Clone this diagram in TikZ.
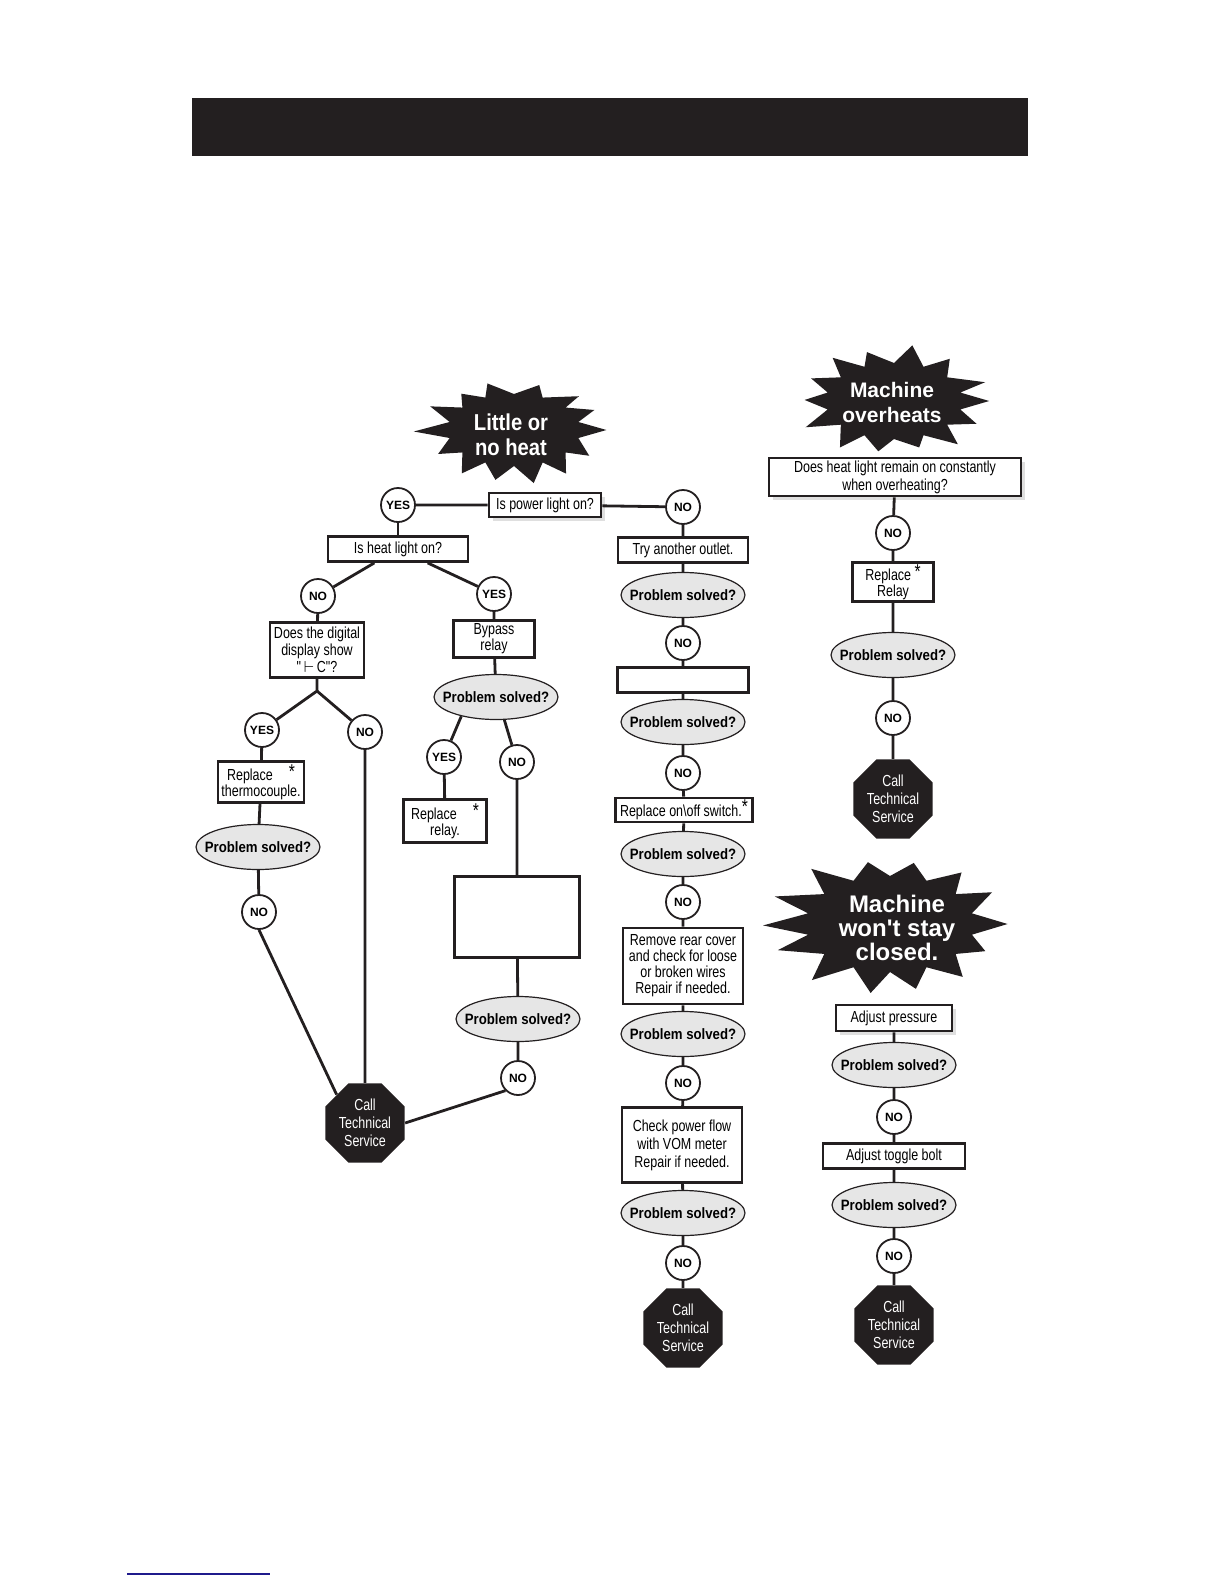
\documentclass[tikz,border=0pt]{standalone}
\usepackage{fontspec}
\setmainfont{Liberation Sans}
\newfontfamily\condfont{Liberation Sans}[FakeStretch=0.78]
\newfontfamily\boldcond{Liberation Sans}[FakeStretch=0.88]
\newfontfamily\titlefont{Liberation Sans}[Ligatures=TeXOff]
\usetikzlibrary{shapes.geometric, shadows}

\definecolor{ink}{HTML}{231F20}
\definecolor{solvedgray}{HTML}{E6E6E6}
\definecolor{linkblue}{HTML}{1F1A8C}

% spiky black blob behind each problem title
\newcommand\burstshape[4]{%
  \pgfmathsetseed{#4}%
  \fill[ink, shift={#1}, x=#2, y=-#3]
    (0:1.4) \foreach \k in {1,...,27} {
      -- ({\k*360/28+ifthenelse(mod(\k,2)==0,8*rnd-4,0)}:{ifthenelse(mod(\k,2)==0,1.25+0.28*rnd,1)})
    } -- cycle;
}
\newcommand\bigstar{\raisebox{1pt}{\fontsize{10}{10}\selectfont *}}

\begin{document}
\begin{tikzpicture}[
  x=0.5pt, y=-0.5pt,
  qbox/.style={draw=ink, line width=1.4pt, fill=white, align=center,
    inner sep=1pt, font=\condfont\fontsize{8}{8}\selectfont},
  yn/.style={circle, draw=ink, line width=0.9pt, fill=white,
    minimum size=17pt, inner sep=0pt, font=\bfseries\fontsize{6}{6}\selectfont},
  solved/.style={ellipse, draw=ink, line width=0.6pt, fill=solvedgray,
    minimum width=62pt, minimum height=22.5pt, inner xsep=-5pt, inner ysep=0pt,
    font=\boldcond\bfseries\fontsize{7.5}{7.5}\selectfont},
  callts/.style={regular polygon, regular polygon sides=8, fill=ink,
    minimum size=43pt, inner sep=0pt, align=center, text=white,
    font=\condfont\fontsize{8}{9}\selectfont},
  burstlabel/.style={text=white, align=center, inner sep=0pt},
  wire/.style={draw=ink, line width=1.4pt},
  lifted/.style={drop shadow={shadow xshift=2pt, shadow yshift=-2pt, fill=black!25}},
]
\useasboundingbox (0,0) rectangle (1224,1584);

\fill[ink] (192,98) rectangle (1028,156);

% Little or no heat
\burstshape{(514,430)}{33pt}{18pt}{3}
\node[burstlabel, font=\boldcond\bfseries\fontsize{11.5}{12.5}\selectfont]
  (lowheat) at (511,435) {Little or\\no heat};

\node[yn] (pwryes) at (398,505) {YES};
\node[qbox, lifted, minimum width=56pt, minimum height=12pt] (power) at (545,505) {Is power light on?};
\node[yn] (pwrno) at (683,507) {NO};

\node[qbox, minimum width=70pt, minimum height=12.5pt] (heatq) at (398,549) {Is heat light on?};
\node[yn] (heatno) at (318,596) {NO};
\node[yn] (heatyes) at (494,594) {YES};

\node[qbox, minimum width=47pt, minimum height=27.5pt, font=\condfont\fontsize{8}{8.6}\selectfont]
  (digital) at (317,650) {Does the digital\\display show\\"\,$\vdash$\,C"?};
\coordinate (fork) at (317,691);
\node[yn] (digyes) at (262,730) {YES};
\node[yn] (digno) at (365,732) {NO};
\node[qbox, minimum width=43pt, minimum height=20.5pt] (thermo) at (261,782) {Replace\quad\bigstar\\thermocouple.};
\node[solved] (solvedA) at (258,847) {Problem solved?};
\node[yn] (thermono) at (259,912) {NO};
\node[callts] (callA) at (365,1123) {Call\\Technical\\Service};

\node[qbox, minimum width=40.5pt, minimum height=18.5pt] (bypass) at (494,639) {Bypass\\relay};
\node[solved] (solvedB) at (496,697) {Problem solved?};
\node[yn] (bypyes) at (444,757) {YES};
\node[yn] (bypno) at (517,762) {NO};
\node[qbox, minimum width=41.5pt, minimum height=21.5pt] (relayB) at (445,821) {Replace\quad\bigstar\\relay.};
\node[qbox, minimum width=62.5pt, minimum height=40.5pt] (emptyB) at (517,917) {};
\node[solved] (solvedC) at (518,1019) {Problem solved?};
\node[yn] (emptyno) at (518,1078) {NO};

% middle column
\node[qbox, minimum width=65pt, minimum height=12.5pt] (outlet) at (683,550) {Try another outlet.};
\node[solved] (solvedD) at (683,595) {Problem solved?};
\node[yn] (outletno) at (683,643) {NO};
\node[qbox, minimum width=65.5pt, minimum height=12.5pt] (emptyD) at (683,680) {};
\node[solved] (solvedE) at (683,722) {Problem solved?};
\node[yn] (emptyDno) at (683,773) {NO};
\node[qbox, minimum width=68.5pt, minimum height=12pt] (switch) at (684,810) {Replace on\textbackslash off switch.\raisebox{1.5pt}{\fontsize{10}{10}\selectfont *}};
\node[solved] (solvedF) at (683,854) {Problem solved?};
\node[yn] (switchno) at (683,902) {NO};
\node[qbox, minimum width=60pt, minimum height=38pt] (rewire) at (683,966)
  {Remove rear cover\\and check for loose\\or broken wires\\Repair if needed.};
\node[solved] (solvedG) at (683,1034) {Problem solved?};
\node[yn] (rewireno) at (683,1083) {NO};
\node[qbox, minimum width=60pt, minimum height=37.5pt, font=\condfont\fontsize{8}{9}\selectfont] (vom) at (682,1145)
  {Check power flow\\with VOM meter\\Repair if needed.};
\node[solved] (solvedH) at (683,1213) {Problem solved?};
\node[yn] (vomno) at (683,1263) {NO};
\node[callts] (callB) at (683,1328) {Call\\Technical\\Service};

% Machine overheats
\burstshape{(894,401)}{34pt}{19pt}{11}
\node[burstlabel, font=\titlefont\bfseries\fontsize{10.5}{12.5}\selectfont]
  (overheat) at (892,402) {Machine\\overheats};
\node[qbox, lifted, minimum width=126pt, minimum height=19pt, font=\condfont\fontsize{8}{9}\selectfont]
  (heatrem) at (895,477) {Does heat light remain on constantly\\when overheating?};
\node[yn] (heatremno) at (893,533) {NO};
\node[qbox, minimum width=40.5pt, minimum height=19pt] (relayC) at (893,582) {Replace \bigstar\\Relay};
\node[solved] (solvedI) at (893,655) {Problem solved?};
\node[yn] (relayno) at (893,718) {NO};
\node[callts] (callC) at (893,799) {Call\\Technical\\Service};

% Machine won't stay closed
\burstshape{(890,924)}{42pt}{24pt}{5}
\node[burstlabel, font=\titlefont\bfseries\fontsize{12}{11.8}\selectfont]
  (openlid) at (897,928) {Machine\\won't stay\\closed.};
\node[qbox, lifted, minimum width=58pt, minimum height=13pt] (pressure) at (894,1018) {Adjust pressure};
\node[solved] (solvedJ) at (894,1065) {Problem solved?};
\node[yn] (pressno) at (894,1117) {NO};
\node[qbox, minimum width=71pt, minimum height=12.5pt] (toggle) at (894,1156) {Adjust toggle bolt};
\node[solved] (solvedK) at (894,1205) {Problem solved?};
\node[yn] (toggleno) at (894,1256) {NO};
\node[callts] (callD) at (894,1325) {Call\\Technical\\Service};

% connectors
\draw[wire] (pwryes) -- (power) -- (pwrno);
\draw[wire] (pwryes) -- (heatq);
\draw[wire] (heatq) -- (heatno);
\draw[wire] (heatq) -- (heatyes);
\draw[wire] (heatno) -- (digital) -- (fork) -- (digyes);
\draw[wire] (fork) -- (digno);
\draw[wire] (digyes) -- (thermo) -- (solvedA) -- (thermono);
\draw[wire] (thermono.south) -- (callA.135);
\draw[wire] (digno) -- (callA);
\draw[wire] (heatyes) -- (bypass) -- (solvedB);
\draw[wire] (solvedB.209) -- (bypyes);
\draw[wire] (solvedB.290) -- (bypno);
\draw[wire] (bypyes) -- (relayB);
\draw[wire] (bypno) -- (emptyB) -- (solvedC) -- (emptyno);
\draw[wire] (emptyno.south west) -- (callA.east);

\draw[wire] (pwrno) -- (outlet) -- (solvedD) -- (outletno) -- (emptyD)
  -- (solvedE) -- (emptyDno) -- (switch) -- (solvedF) -- (switchno)
  -- (rewire) -- (solvedG) -- (rewireno) -- (vom) -- (solvedH)
  -- (vomno) -- (callB);

\draw[wire] (heatrem) -- (heatremno) -- (relayC) -- (solvedI) -- (relayno) -- (callC);
\draw[wire] (pressure) -- (solvedJ) -- (pressno) -- (toggle) -- (solvedK) -- (toggleno) -- (callD);

\draw[linkblue, line width=0.8pt] (127,1574) -- (270,1574);
\end{tikzpicture}
\end{document}
